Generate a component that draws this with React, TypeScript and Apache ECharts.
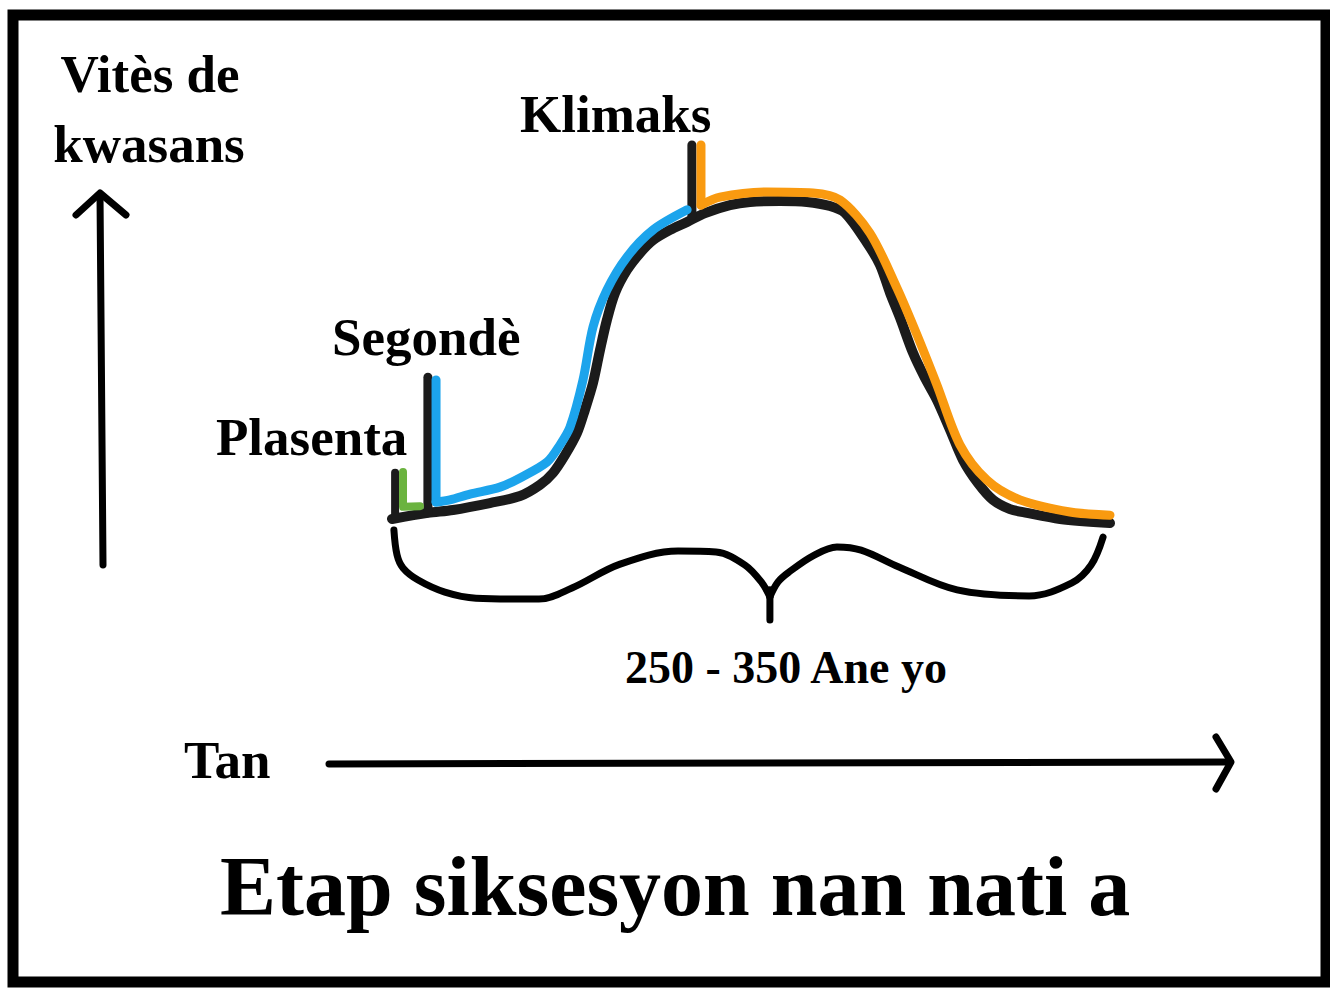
import React, { useEffect, useRef } from "react";
import * as echarts from "echarts";

// Black growth curve (time in years, growth rate in relative units)
const curveYears = [0, 15, 25.5, 40.9, 53.5, 61.8, 67.3, 72.3, 77.3, 80.6, 84, 86.9, 89.8, 93.2, 98.2, 103.6, 109.1, 116.2, 123.3, 130.8, 141.2, 149.6, 162.1, 173.4, 183, 189.3, 198.5, 203.9, 208.1, 212.3, 217.7, 222.7, 227.7, 233.2, 238.6, 244.8, 251.1, 258.2, 265.3, 279.1, 300];
const curveRate = [-0.3, 1.6, 2.5, 4.7, 6.9, 10.4, 14.2, 19.8, 26.7, 34, 42.5, 52.8, 62.3, 70.8, 78, 83.3, 87.4, 90.6, 93.1, 95.9, 98.4, 99.4, 99.7, 99.4, 98.1, 95.9, 86.5, 79.6, 70.8, 62.9, 51.9, 44, 37.1, 27.7, 18.2, 11, 5.7, 2.8, 1.6, -0.3, -1.6];

// Stage markers (black ticks): [year, bottom, top]
const plasentaTick = [1.3, -0.3, 14.2];
const segondeTick = [15, 1.6, 44.3];
const klimaksTick = [125.3, 95, 117.3];

// Green stage (Plasenta)
const greenYears = [4.6, 4.6, 11.7];
const greenRate = [14.5, 3.5, 3.7];

// Blue stage (Segondè)
const blueTickYears = [18.4, 18.4];
const blueTickRate = [43.4, 5.0];
const blueYears = [18.4, 24.2, 32.6, 45.1, 53.5, 64.8, 70.2, 74.4, 79.8, 84.0, 89.8, 98.2, 109.1, 123.3];
const blueRate = [5.0, 5.7, 7.5, 9.7, 12.6, 17.6, 23.0, 28.6, 43.4, 60.1, 71.7, 82.1, 90.6, 96.9];

// Orange stage (Klimaks)
const orangeTickYears = [129.1, 129.1];
const orangeTickRate = [117.3, 98.4];
const orangeYears = [129.1, 137, 156.7, 175.9, 187.2, 199.7, 211, 219.4, 227.7, 237.3, 248.6, 262.4, 283.3, 300];
const orangeRate = [98.4, 100.9, 102.5, 102.2, 100, 89.6, 72.3, 57.5, 41.8, 23, 11.9, 5.7, 1.9, 0.9];

// Brace spanning the 250 - 350 years
const braceLeftYears = [0.8, 2.1, 4.6, 10.9, 22.1, 35.1, 61.4, 75.2, 95.3, 119.5, 135.4, 147.5, 154.6, 157.9];
const braceLeftY = [-3.8, -11.6, -15.7, -19.5, -23.3, -25.2, -25.5, -22.0, -14.5, -10.4, -10.7, -14.8, -20.4, -24.8];
const braceRightYears = [157.9, 161.3, 165.9, 175.9, 185.9, 196.0, 211.8, 236.1, 266.2, 284.1, 292.1, 297.1];
const braceRightY = [-24.8, -20.1, -17.0, -11.9, -9.1, -10.1, -15.4, -22.6, -24.5, -20.4, -14.8, -6.0];
const braceStem = [157.9, -22.6, -32.1];

const zip = (xs: number[], ys: number[]) => xs.map((x, i) => [x, ys[i]]);
const tick = (t: number[]) => [[t[0], t[1]], [t[0], t[2]]];

const BLACK = "#1b1b1b";
const BLUE = "#1ca4ec";
const ORANGE = "#f99a10";
const GREEN = "#6bb33f";
const FONT = '"Liberation Serif", "Times New Roman", serif';

function lineSeries(data: number[][], color: string, width: number, smooth: number | boolean) {
  return {
    type: "line",
    data,
    smooth,
    showSymbol: false,
    symbol: "none",
    clip: false,
    silent: true,
    lineStyle: { color, width, cap: "round", join: "round" },
  };
}

function label(text: string, x: number, y: number, size: number, align = "left") {
  return {
    type: "text",
    x,
    y,
    style: {
      text,
      fill: "#000",
      fontSize: size,
      fontWeight: "bold",
      fontFamily: FONT,
      align,
      textAlign: align,
      verticalAlign: "middle",
      textVerticalAlign: "middle",
    },
  };
}

export default function App() {
  const ref = useRef<HTMLDivElement>(null);
  useEffect(() => {
    if (!ref.current) return;
    const chart = echarts.init(ref.current, null, { renderer: "svg" });
    const arrowStyle = { stroke: "#000", lineWidth: 7, lineCap: "round", lineJoin: "round", fill: null };
    chart.setOption({
      animation: false,
      backgroundColor: "#fff",
      grid: { left: 392, width: 718, top: 200, height: 318 },
      xAxis: { type: "value", min: 0, max: 300, show: false },
      yAxis: { type: "value", min: 0, max: 100, show: false },
      graphic: [
        {
          type: "rect",
          shape: { x: 13, y: 15, width: 1313, height: 967 },
          style: { fill: "#fff", stroke: "#000", lineWidth: 11 },
          z: -10,
        },
        { type: "line", shape: { x1: 103, y1: 565, x2: 100, y2: 194 }, style: arrowStyle },
        { type: "polyline", shape: { points: [[76, 215], [100, 193], [126, 215]] }, style: arrowStyle },
        { type: "line", shape: { x1: 329, y1: 764, x2: 1230, y2: 762 }, style: arrowStyle },
        { type: "polyline", shape: { points: [[1216, 737], [1231, 762], [1216, 789]] }, style: arrowStyle },
        label("Vitès de", 150, 74, 53, "center"),
        label("kwasans", 149, 144, 53, "center"),
        label("Klimaks", 520, 114, 53),
        label("Segondè", 332, 337, 53),
        label("Plasenta", 216, 437, 53),
        label("250 - 350 Ane yo", 625, 667, 46),
        label("Tan", 184, 760, 53),
        label("Etap siksesyon nan nati a", 220, 886, 84),
      ],
      series: [
        lineSeries(zip(braceLeftYears, braceLeftY), "#000", 7, 0.35),
        lineSeries(zip(braceRightYears, braceRightY), "#000", 7, 0.35),
        lineSeries(tick(braceStem), "#000", 7, false),
        lineSeries(zip(curveYears, curveRate), BLACK, 10, 0.3),
        lineSeries(tick(plasentaTick), BLACK, 8, false),
        lineSeries(tick(segondeTick), BLACK, 9, false),
        lineSeries(tick(klimaksTick), BLACK, 9, false),
        lineSeries(zip(greenYears, greenRate), GREEN, 8, false),
        lineSeries(zip(blueTickYears, blueTickRate), BLUE, 9, false),
        lineSeries(zip(blueYears, blueRate), BLUE, 9, 0.3),
        lineSeries(zip(orangeTickYears, orangeTickRate), ORANGE, 9, false),
        lineSeries(zip(orangeYears, orangeRate), ORANGE, 9, 0.3),
      ],
    });
    return () => chart.dispose();
  }, []);
  return (
    <div
      ref={ref}
      style={{ position: "fixed", left: 0, top: 0, width: 1330, height: 988, background: "#fff" }}
    />
  );
}
